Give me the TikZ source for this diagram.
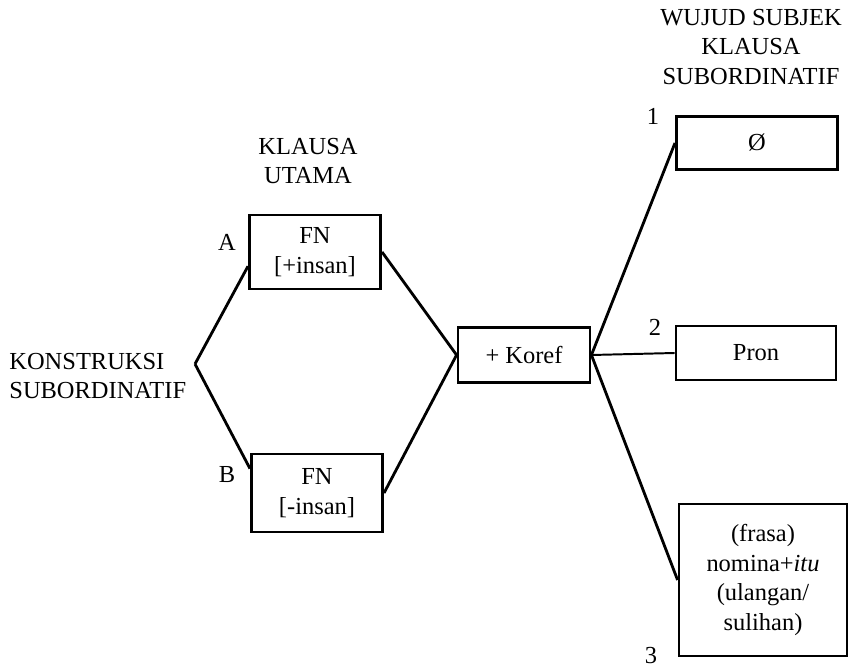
\documentclass[tikz,border=0pt]{standalone}
\usepackage{fontspec}
\setmainfont{Liberation Serif}
\usepackage{tikz}
\usetikzlibrary{arrows}

\begin{document}
\begin{tikzpicture}[x=0.025cm, y=-0.025cm, line width=2pt,
                    main node/.style={draw,align=center,inner sep=0pt,font=\fontsize{17.4pt}{21pt}\selectfont},
                    tag/.style={inner sep=0pt,font=\fontsize{17.4pt}{21pt}\selectfont}]

  \useasboundingbox (0,0) rectangle (860,669);

  % headings
  \node[tag,align=left,anchor=west] (konstruksi) at (8,376) {KONSTRUKSI\\SUBORDINATIF};
  \node[tag,align=center] (utama) at (308,161) {KLAUSA\\UTAMA};
  \node[tag,align=center] (wujud) at (751,47) {WUJUD SUBJEK\\KLAUSA\\SUBORDINATIF};

  \coordinate (apex) at (195,364);

  % boxes
  \node[main node,minimum width=3.28cm,minimum height=1.85cm] (A) at (315,252) {FN\\ {[+insan]}};
  \node[main node,minimum width=3.28cm,minimum height=1.95cm] (B) at (317,493) {FN\\ {[-insan]}};
  \node[main node,minimum width=3.3cm,minimum height=1.38cm] (K) at (524,355) {+ Koref};
  \node[main node,minimum width=4.03cm,minimum height=1.33cm] (1) at (757,143) {Ø};
  \node[main node,minimum width=4.0cm,minimum height=1.35cm] (2) at (756,353) {Pron};
  \node[main node,minimum width=4.2cm,minimum height=3.8cm] (3) at (763,580)
    {(frasa)\\nomina+\textit{itu}\\(ulangan/\\sulihan)};

  % small labels
  \node[tag] (labA) at (227,242) {A};
  \node[tag] (labB) at (227,475) {B};
  \node[tag] (lab1) at (653,116) {1};
  \node[tag] (lab2) at (655,327) {2};
  \node[tag] (lab3) at (651,656) {3};

  \path (apex) edge (A.192)
               edge (B.160)
        (A.east) edge (K.west)
        (B.east) edge (K.west)
        (K.east) edge (1.west)
                 edge[line width=1.4pt] (2.west)
                 edge (3.west);
\end{tikzpicture}
\end{document}
